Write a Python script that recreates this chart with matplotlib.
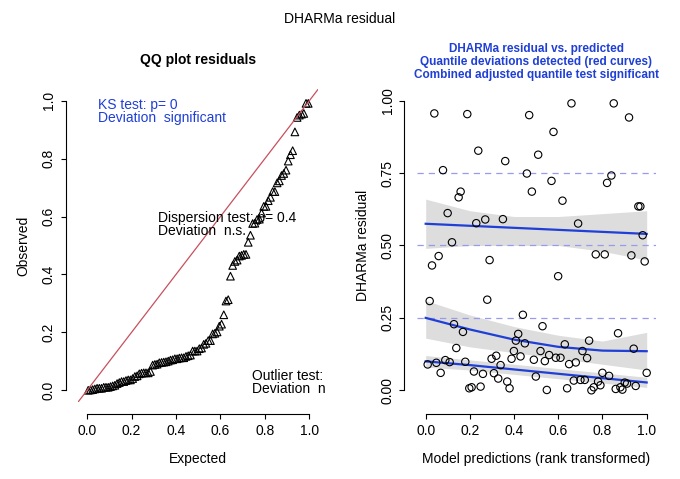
import numpy as np
import matplotlib.pyplot as plt

plt.rcParams['font.family'] = 'Liberation Sans'
plt.rcParams['font.size'] = 10

# residual positions (pixel coords of a 3x crop)
pts = [(133,88),(232,90),(418,93),(545,58),(672,58),(718,100),(491,143),(265,199),(445,211),(346,230),
       (159,257),(411,267),(665,273),(485,289),(652,295),(426,321),(212,321),(206,338),(518,348),(173,385),
       (746,365),(752,365),(259,415),(286,404),(339,403),(565,416),(759,451),(186,472),(146,513),(126,541),
       (299,525),(618,508),(645,508),(725,511),(765,529),(505,573),(119,647),(292,643),(399,688),(458,722),
       (192,716),(219,739),(685,743),(385,745),(378,765),(405,773),(525,776),(598,765),(199,787),(578,796),
       (732,789),(372,796),(452,796),(319,810),(305,819),(365,819),(392,812),(478,808),(498,816),(512,816),
       (592,817),(432,822),(465,826),(166,823),(179,829),(139,831),(113,836),(226,828),(332,838),(558,830),
       (538,835),(152,861),(252,857),(279,864),(312,862),(638,861),(658,870),(438,872),(325,878),(352,887),
       (238,907),(245,904),(272,902),(359,907),(471,912),(532,907),(552,884),(572,882),(585,882),(625,887),
       (632,898),(612,904),(605,914),(678,909),(692,904),(698,911),(705,890),(712,893),(738,900),(771,861)]
pts = np.array(pts, dtype=float)
pred = (pts[:, 0] - 107) / 664
resid = np.clip((913 - pts[:, 1]) / 863, 0, 1)

observed = np.sort(resid)
expected = (np.arange(len(observed)) + 0.5) / len(observed)

# quantile regression curves
xq = np.array([0, 0.2, 0.4, 0.6, 0.8, 1.0])
curves = {
    0.75: ([0.575, 0.568, 0.561, 0.554, 0.547, 0.54], [0.49, 0.50, 0.50, 0.50, 0.48, 0.45], [0.66, 0.62, 0.60, 0.60, 0.61, 0.62]),
    0.5: ([0.25, 0.21, 0.175, 0.15, 0.137, 0.135], [0.18, 0.15, 0.13, 0.11, 0.09, 0.07], [0.31, 0.26, 0.22, 0.19, 0.17, 0.20]),
    0.25: ([0.10, 0.087, 0.072, 0.057, 0.042, 0.027], [0.08, 0.07, 0.055, 0.04, 0.025, 0.01], [0.12, 0.105, 0.09, 0.075, 0.06, 0.045]),
}

fig = plt.figure(figsize=(6.8, 4.79), dpi=100)
fig.suptitle("DHARMa residual", y=0.975, fontsize=10)

ax1 = fig.add_axes([0.115, 0.161, 0.353, 0.653])
ax1.plot([-1, 2], [-1, 2], color='#c8505e', lw=0.9)
ax1.scatter(expected, observed, marker='^', facecolors='none', edgecolors='black', s=30, lw=0.8)
ax1.set_xlim(-0.04, 1.04)
ax1.set_ylim(-0.04, 1.04)
ax1.set_title("QQ plot residuals", fontweight='bold', fontsize=10, pad=18)
ax1.set_xlabel("Expected", labelpad=10)
ax1.set_ylabel("Observed", labelpad=8)
ax1.text(0.05, 1.01, "KS test: p= 0\nDeviation  significant", color='#1f3fd6', va='top', linespacing=0.95)
ax1.text(0.32, 0.62, "Dispersion test: p= 0.4\nDeviation  n.s.", va='top', linespacing=0.95)
ax1.text(0.74, 0.075, "Outlier test:\nDeviation  n", va='top', linespacing=0.95)

ax2 = fig.add_axes([0.613, 0.161, 0.351, 0.653])
for q in (0.25, 0.5, 0.75):
    ax2.axhline(q, color='#9999ee', ls='--', lw=0.9, dashes=(5, 4))
for q, (mid, lo, hi) in curves.items():
    xs = np.linspace(0, 1, 100)
    ax2.fill_between(xs, np.interp(xs, xq, lo), np.interp(xs, xq, hi), color='#dddddd', lw=0)
    ax2.plot(xs, np.interp(xs, xq, mid), color='#1f3fd6', lw=1.6)
ax2.scatter(pred, resid, facecolors='none', edgecolors='black', s=28, lw=0.8, zorder=3)
ax2.set_xlim(-0.04, 1.04)
ax2.set_ylim(-0.04, 1.04)
ax2.set_title("DHARMa residual vs. predicted\nQuantile deviations detected (red curves)\nCombined adjusted quantile test significant",
              color='#1f3fd6', fontweight='bold', fontsize=8.5, pad=8, linespacing=1.1)
ax2.set_xlabel("Model predictions (rank transformed)", labelpad=10)
ax2.set_ylabel("DHARMa residual", labelpad=8)
ax2.set_yticks([0, 0.25, 0.5, 0.75, 1.0])
ax2.set_yticklabels(["0.00", "0.25", "0.50", "0.75", "1.00"])

for ax in (ax1, ax2):
    ax.set_xticks([0, 0.2, 0.4, 0.6, 0.8, 1.0])
    ax.spines['top'].set_visible(False)
    ax.spines['right'].set_visible(False)
    ax.spines['left'].set_position(('outward', 9))
    ax.spines['bottom'].set_position(('outward', 9))
    ax.spines['left'].set_bounds(0, 1)
    ax.spines['bottom'].set_bounds(0, 1)
    for lab in ax.get_yticklabels():
        lab.set_rotation(90)
        lab.set_va('center')
ax1.set_yticks([0, 0.2, 0.4, 0.6, 0.8, 1.0])
for lab in ax1.get_yticklabels():
    lab.set_rotation(90)
    lab.set_va('center')

plt.savefig("out.png", dpi=100)
